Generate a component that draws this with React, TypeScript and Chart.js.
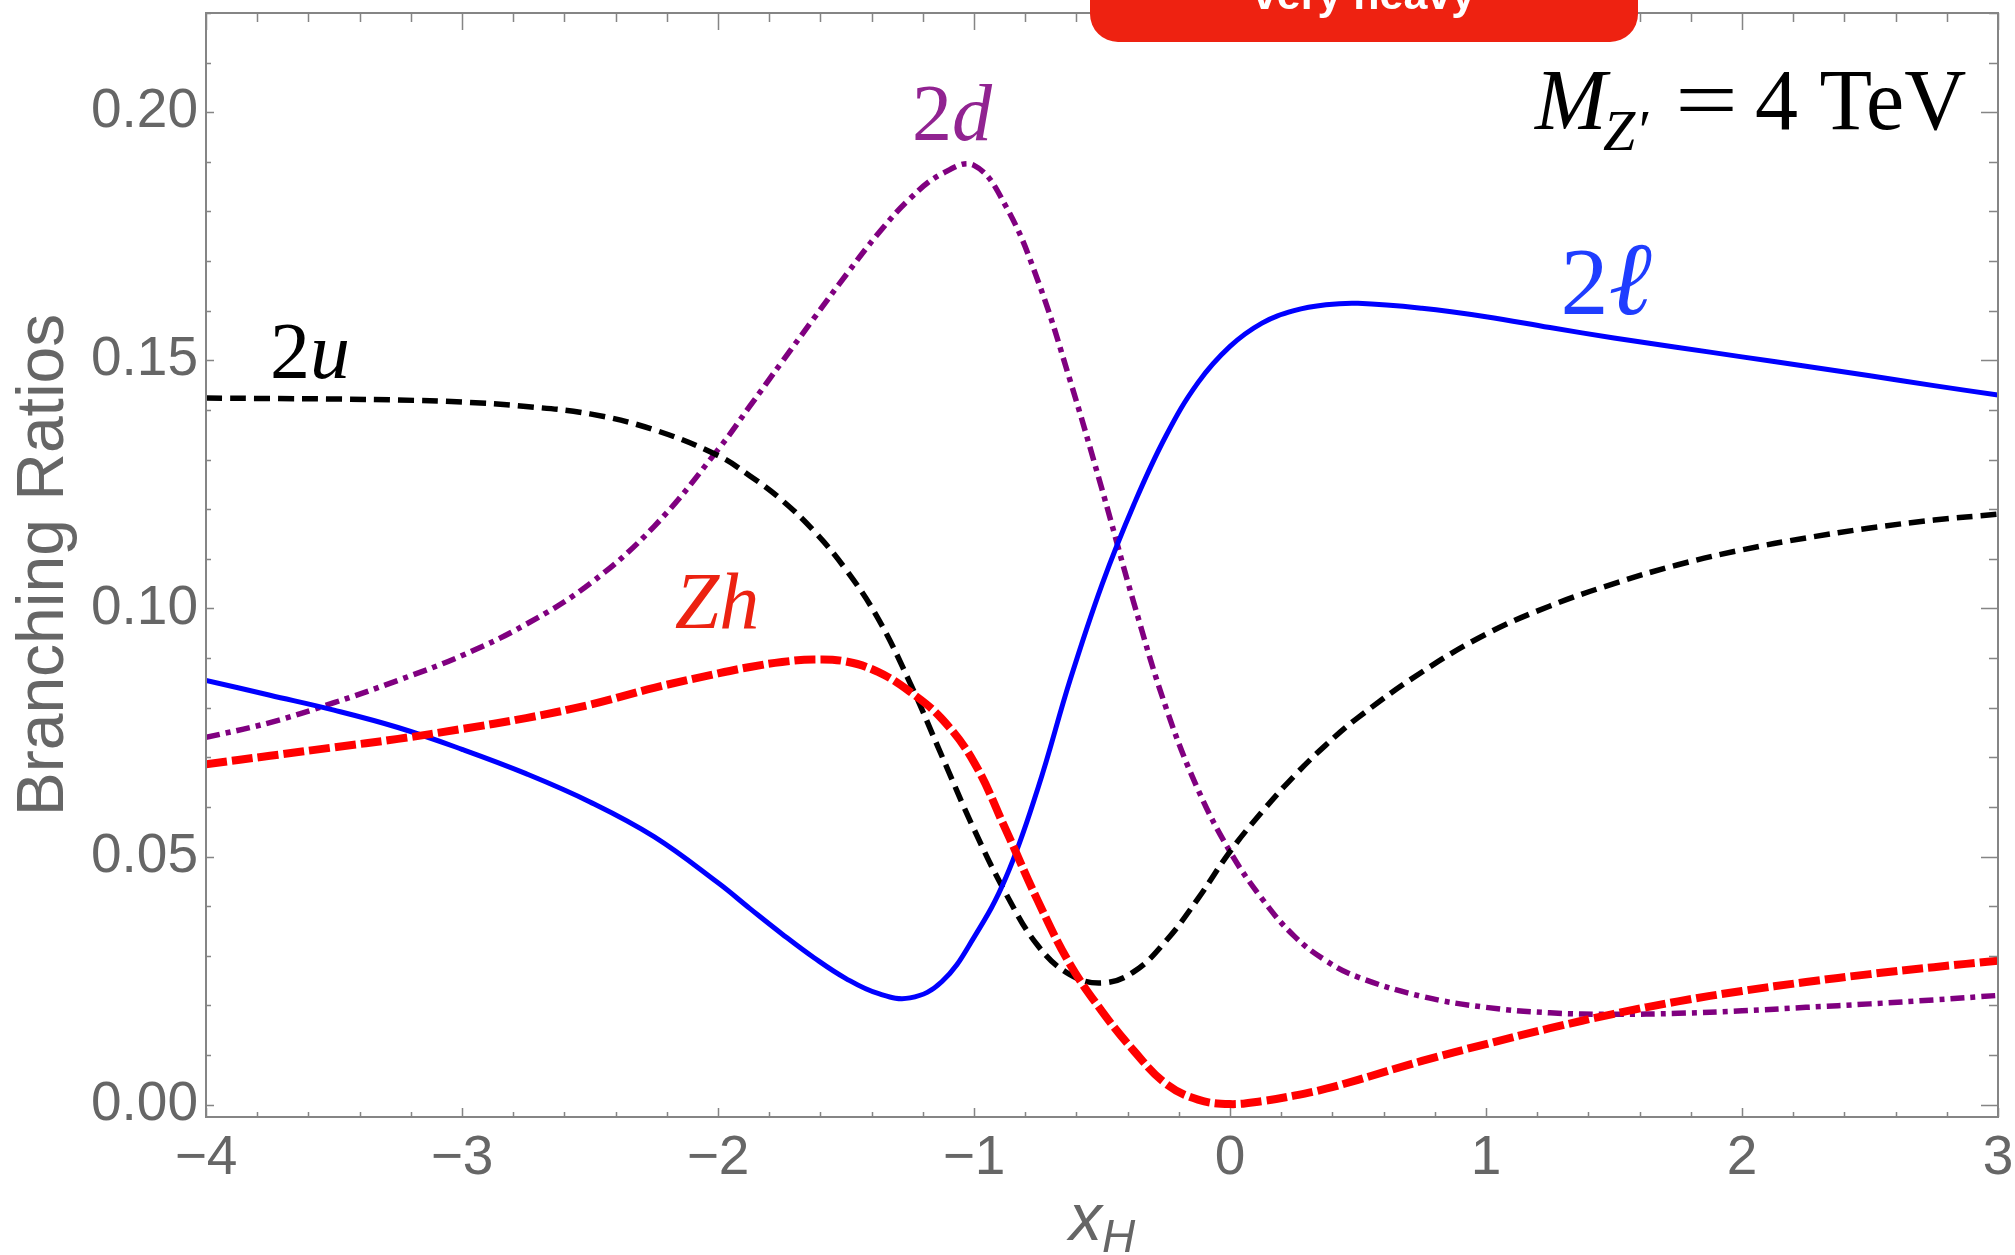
import React, { useEffect, useRef } from "react";
import { Chart, registerables } from "chart.js";

Chart.register(...registerables);

// Higgs charge parameter x_H sampled across the plotted range
const xH = [
  -4, -3.75, -3.5, -3.25, -3, -2.75, -2.5, -2.25, -2, -1.875, -1.75, -1.625, -1.5,
  -1.375, -1.25, -1.125, -1, -0.875, -0.75, -0.625, -0.5, -0.375, -0.25, -0.125, 0,
  0.125, 0.25, 0.375, 0.5, 0.75, 1, 1.25, 1.5, 1.75, 2, 2.25, 2.5, 2.75, 3,
];

// Z' -> l+ l-
const brLeptons = [
  0.0855, 0.0825, 0.0795, 0.076, 0.0716, 0.0667, 0.061, 0.054, 0.0447, 0.0395, 0.0344,
  0.0296, 0.0254, 0.0224, 0.0215, 0.0248, 0.0337, 0.0458, 0.0638, 0.0855, 0.1048, 0.121,
  0.1348, 0.1455, 0.1528, 0.1575, 0.16, 0.1612, 0.1615, 0.1605, 0.1588, 0.1566, 0.1545,
  0.1526, 0.1507, 0.1488, 0.1469, 0.1449, 0.143,
];

// Z' -> d dbar
const brDown = [
  0.074, 0.077, 0.081, 0.0855, 0.0905, 0.0968, 0.105, 0.1165, 0.132, 0.1408, 0.1497,
  0.1585, 0.1672, 0.1755, 0.1826, 0.1876, 0.1893, 0.181, 0.166, 0.146, 0.124, 0.101, 0.08,
  0.0635, 0.051, 0.0415, 0.034, 0.029, 0.0257, 0.0218, 0.0196, 0.0185, 0.0182, 0.0184,
  0.0189, 0.0196, 0.0203, 0.0211, 0.022,
];

// Z' -> u ubar
const brUp = [
  0.1424, 0.1423, 0.1422, 0.142, 0.1416, 0.1407, 0.1392, 0.136, 0.1308, 0.1267, 0.1218,
  0.1156, 0.1078, 0.098, 0.085, 0.0702, 0.0555, 0.0425, 0.032, 0.0262, 0.0245, 0.0268,
  0.033, 0.0415, 0.051, 0.059, 0.0662, 0.0725, 0.078, 0.0872, 0.0948, 0.1005, 0.105,
  0.1088, 0.1118, 0.1142, 0.1162, 0.1178, 0.119,
];

// Z' -> Z h
const brZh = [
  0.0686, 0.0703, 0.072, 0.0737, 0.0757, 0.0779, 0.0806, 0.084, 0.0869, 0.0882, 0.0892,
  0.0897, 0.0893, 0.0872, 0.0832, 0.0777, 0.069, 0.0553, 0.041, 0.0283, 0.0188, 0.0108,
  0.0042, 0.001, 0.0001, 0.0007, 0.0018, 0.0032, 0.005, 0.0088, 0.0122, 0.0154, 0.0183,
  0.0208, 0.0229, 0.0247, 0.0263, 0.0277, 0.029,
];

const xTicks = [-4, -3, -2, -1, 0, 1, 2, 3];
const yTicks = [0, 0.05, 0.1, 0.15, 0.2];

const SANS = '"Liberation Sans", Arial, Helvetica, sans-serif';
const SERIF = '"Liberation Serif", "Times New Roman", "DejaVu Serif", serif';
const AXIS_GRAY = "#666666";
const FRAME_GRAY = "#858585";

type Piece = { text: string; font: string; dy?: number };

function drawPieces(ctx: CanvasRenderingContext2D, pieces: Piece[], cx: number, baseline: number, color: string) {
  ctx.fillStyle = color;
  ctx.textAlign = "left";
  ctx.textBaseline = "alphabetic";
  const widths = pieces.map((p) => {
    ctx.font = p.font;
    return ctx.measureText(p.text).width;
  });
  const total = widths.reduce((a, b) => a + b, 0);
  let x = cx - total / 2;
  pieces.forEach((p, i) => {
    ctx.font = p.font;
    ctx.fillText(p.text, x, baseline + (p.dy || 0));
    x += widths[i];
  });
}

const decorations = {
  id: "decorations",
  afterDatasetsDraw(chart: any) {
    const { ctx, chartArea: a, scales } = chart;
    const xs = scales.x;
    const ys = scales.y;
    ctx.save();

    // frame
    ctx.strokeStyle = FRAME_GRAY;
    ctx.lineWidth = 2;
    ctx.strokeRect(a.left, a.top, a.right - a.left, a.bottom - a.top);

    // inward frame ticks
    ctx.lineWidth = 1.5;
    ctx.beginPath();
    for (let k = 0; k <= 35; k++) {
      const v = -4 + k * 0.2;
      const px = Math.round(xs.getPixelForValue(v)) + 0.5;
      const major = k % 5 === 0;
      ctx.moveTo(px, a.bottom);
      ctx.lineTo(px, a.bottom - (major ? 9 : 5));
      ctx.moveTo(px, a.top);
      ctx.lineTo(px, a.top + (major ? 17 : 9));
    }
    for (let k = 0; k <= 22; k++) {
      const v = k * 0.01;
      const py = Math.round(ys.getPixelForValue(v)) + 0.5;
      const major = k % 5 === 0;
      ctx.moveTo(a.left, py);
      ctx.lineTo(a.left + (major ? 8 : 5), py);
      ctx.moveTo(a.right, py);
      ctx.lineTo(a.right - (major ? 17 : 9), py);
    }
    ctx.stroke();

    // curve labels
    const lab = (size: number, italic: boolean) => `${italic ? "italic " : ""}${size}px ${SERIF}`;
    drawPieces(ctx, [{ text: "2", font: lab(80, false) }, { text: "u", font: lab(80, true) }],
      xs.getPixelForValue(-3.594), ys.getPixelForValue(0.1464), "#000000");
    drawPieces(ctx, [{ text: "2", font: lab(80, false) }, { text: "d", font: lab(80, true) }],
      xs.getPixelForValue(-1.086), ys.getPixelForValue(0.1944), "#912391");
    drawPieces(ctx, [{ text: "Zh", font: lab(80, true) }],
      xs.getPixelForValue(-2.004), ys.getPixelForValue(0.0961), "#ec2211");
    drawPieces(ctx, [{ text: "2", font: lab(96, false) }, { text: "\u2113", font: lab(104, true) }],
      xs.getPixelForValue(1.469), ys.getPixelForValue(0.1594), "#1f3dff");

    // mass label, top right
    const r = a.right;
    ctx.fillStyle = "#000000";
    ctx.textBaseline = "alphabetic";
    ctx.textAlign = "left";
    ctx.font = `italic 86px ${SERIF}`;
    ctx.fillText("M", r - 463, 129);
    ctx.font = `italic 58px ${SERIF}`;
    ctx.fillText("Z\u2032", r - 395, 150);
    ctx.font = `86px ${SERIF}`;
    ctx.save();
    ctx.translate(r - 323, 129);
    ctx.scale(1.3, 1);
    ctx.fillText("=", 0, 0);
    ctx.restore();
    ctx.textAlign = "left";
    ctx.fillText("4 TeV", r - 243, 129);

    // x axis title with subscript
    const cx = (a.left + a.right) / 2;
    drawPieces(ctx, [
      { text: "x", font: `italic 66px ${SANS}` },
      { text: "H", font: `italic 46px ${SANS}`, dy: 12 },
    ], cx, a.bottom + 123, AXIS_GRAY);

    // red tab at the top edge
    ctx.fillStyle = "#ee2211";
    ctx.beginPath();
    (ctx as any).roundRect(1090, -60, 548, 102, 28);
    ctx.fill();
    ctx.fillStyle = "#ffffff";
    ctx.textAlign = "center";
    ctx.textBaseline = "alphabetic";
    ctx.font = `bold 43px ${SANS}`;
    ctx.fillText("very heavy", 1364, 9);

    ctx.restore();
  },
};

function series(label: string, values: number[], color: string, width: number, dash: number[]) {
  return {
    label,
    data: xH.map((x, i) => ({ x, y: values[i] })),
    borderColor: color,
    backgroundColor: color,
    borderWidth: width,
    borderDash: dash,
    borderCapStyle: "butt" as const,
    borderJoinStyle: "round" as const,
    pointRadius: 0,
    fill: false,
    tension: 0.4,
  };
}

export default function App() {
  const ref = useRef<HTMLCanvasElement>(null);

  useEffect(() => {
    document.body.style.margin = "0";
    const canvas = ref.current;
    if (!canvas) return;
    const chart = new Chart(canvas, {
      type: "line",
      data: {
        datasets: [
          series("Zh", brZh, "#ff0000", 8, [21, 5]),
          series("2l", brLeptons, "#0000ff", 5, []),
          series("2u", brUp, "#000000", 5.5, [16, 8]),
          series("2d", brDown, "#800080", 5.5, [14, 6, 5, 6]),
        ],
      },
      options: {
        animation: false,
        responsive: false,
        maintainAspectRatio: false,
        events: [],
        layout: { padding: { top: 13, right: 17, left: 0, bottom: 0 } },
        plugins: { legend: { display: false }, tooltip: { enabled: false } },
        scales: {
          x: {
            type: "linear",
            min: -4,
            max: 3,
            afterBuildTicks: (s: any) => {
              s.ticks = xTicks.map((value) => ({ value }));
            },
            afterFit: (s: any) => {
              s.height = 138;
              s.paddingLeft = 0;
              s.paddingRight = 0;
            },
            grid: { display: false, drawTicks: false },
            border: { display: false },
            ticks: {
              color: AXIS_GRAY,
              font: { family: SANS, size: 55 },
              padding: 9,
              maxRotation: 0,
              autoSkip: false,
              callback: (v: any) => (Number(v) < 0 ? "\u2212" + Math.abs(Number(v)) : String(v)),
            },
          },
          y: {
            type: "linear",
            min: -0.0025,
            max: 0.22,
            afterBuildTicks: (s: any) => {
              s.ticks = yTicks.map((value) => ({ value }));
            },
            afterFit: (s: any) => {
              s.width = 206;
              s.paddingTop = 0;
              s.paddingBottom = 0;
            },
            grid: { display: false, drawTicks: false },
            border: { display: false },
            ticks: {
              color: AXIS_GRAY,
              font: { family: SANS, size: 55 },
              padding: 8,
              callback: (v: any) => Number(v).toFixed(2),
            },
            title: {
              display: true,
              text: "Branching Ratios",
              color: AXIS_GRAY,
              font: { family: SANS, size: 66 },
              padding: { top: 5, bottom: 0 },
            },
          },
        },
      },
      plugins: [decorations],
    } as any);
    return () => chart.destroy();
  }, []);

  return (
    <div style={{ width: 2015, height: 1255, background: "#ffffff" }}>
      <canvas ref={ref} width={2015} height={1255} style={{ display: "block", width: 2015, height: 1255 }} />
    </div>
  );
}
